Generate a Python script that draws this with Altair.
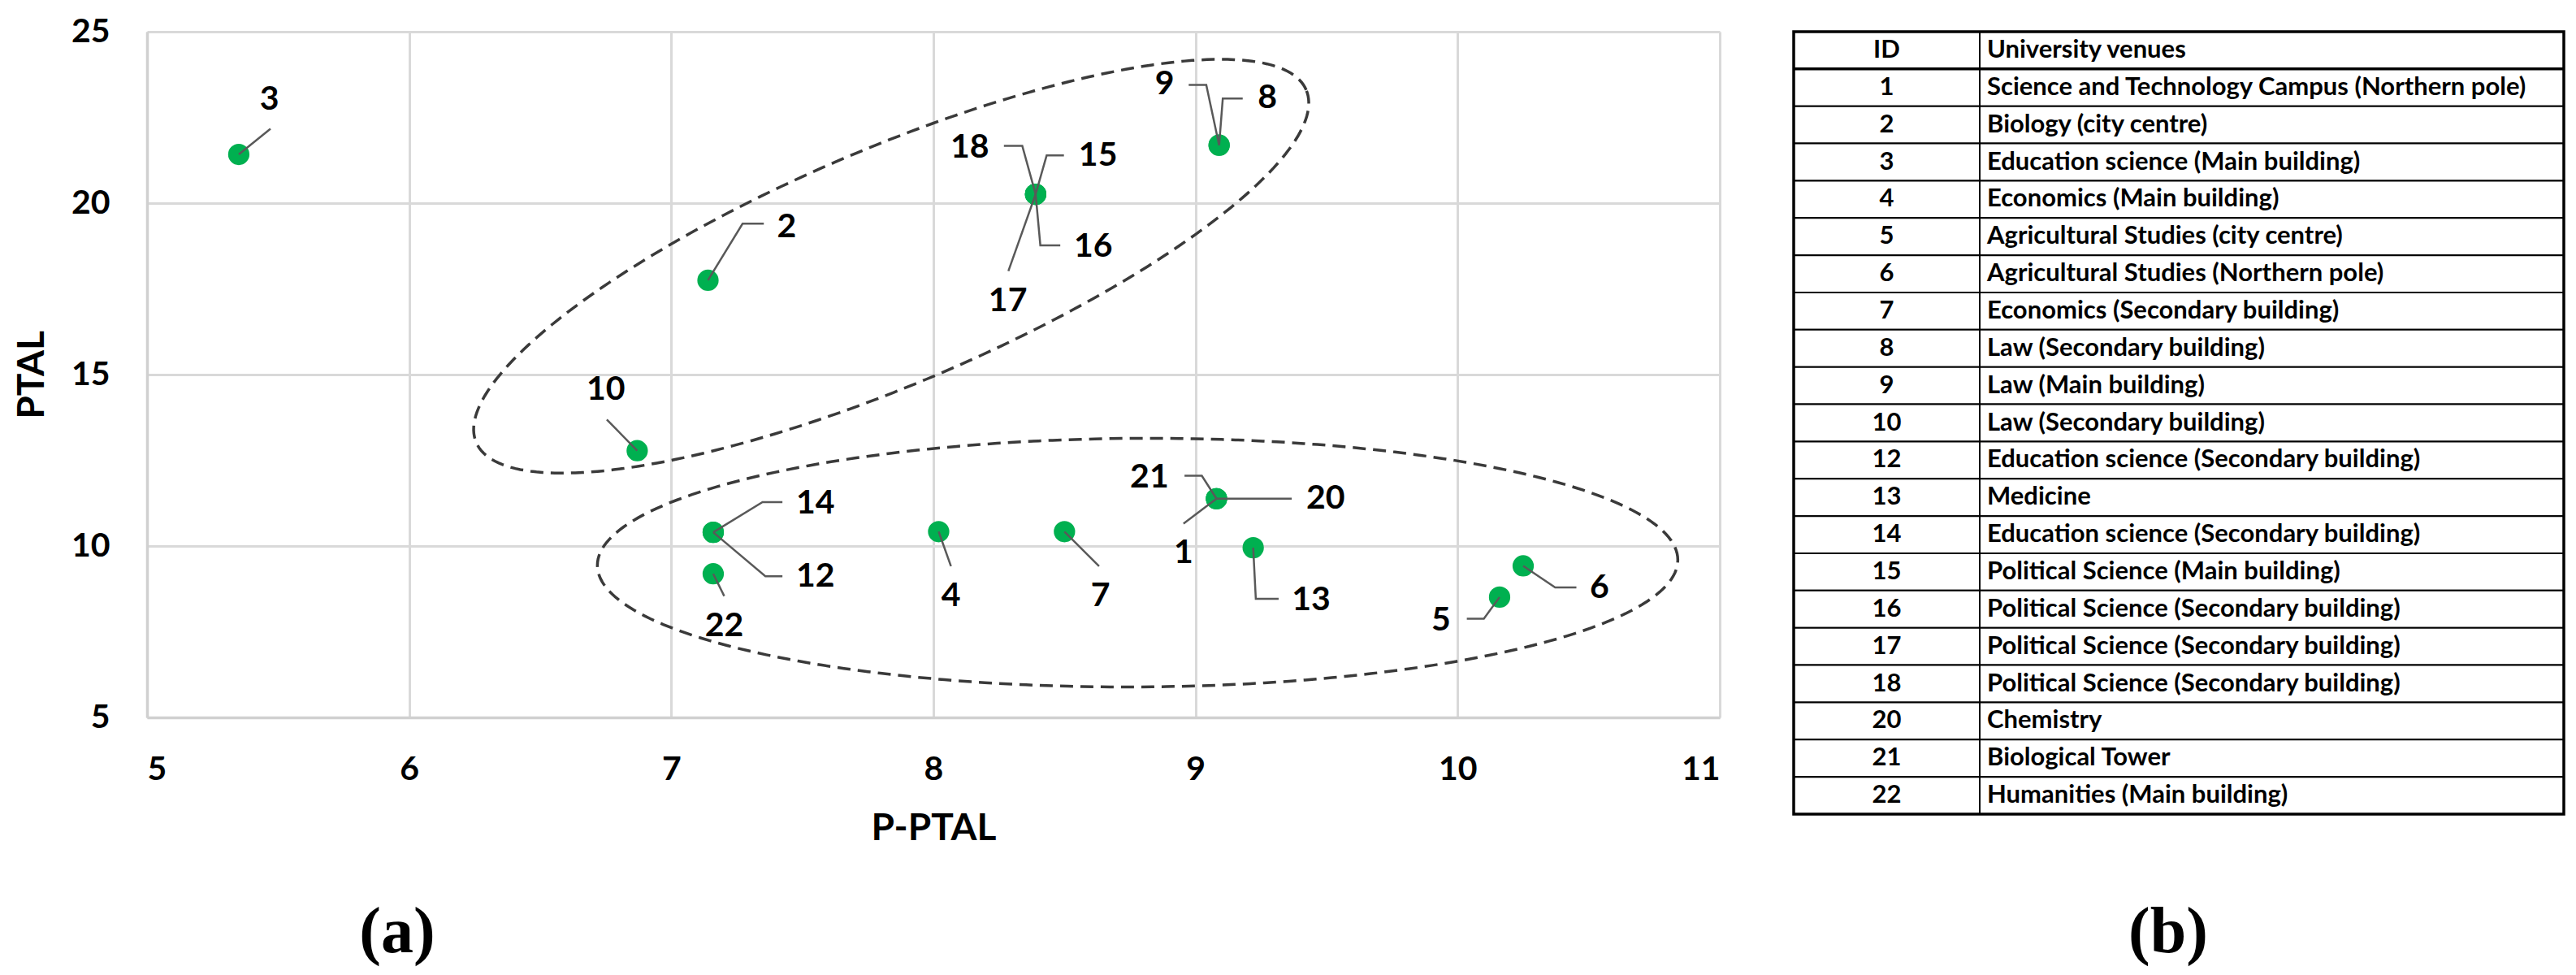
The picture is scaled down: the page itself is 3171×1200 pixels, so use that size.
import math
import altair as alt
import pandas as pd

# ---------------- data ----------------
ids = [1, 2, 3, 4, 5, 6, 7, 8, 9, 10, 12, 13, 14, 15, 16, 17, 18, 20, 21, 22]
venues = [
    "Science and Technology Campus (Northern pole)",
    "Biology (city centre)",
    "Education science (Main building)",
    "Economics (Main building)",
    "Agricultural Studies (city centre)",
    "Agricultural Studies (Northern pole)",
    "Economics (Secondary building)",
    "Law (Secondary building)",
    "Law (Main building)",
    "Law (Secondary building)",
    "Education science (Secondary building)",
    "Medicine",
    "Education science (Secondary building)",
    "Political Science (Main building)",
    "Political Science (Secondary building)",
    "Political Science (Secondary building)",
    "Political Science (Secondary building)",
    "Chemistry",
    "Biological Tower",
    "Humanities (Main building)",
]
p_ptal = [9.08, 7.14, 5.35, 8.02, 10.16, 10.25, 8.50, 9.09, 9.09, 6.87,
          7.16, 9.22, 7.16, 8.39, 8.39, 8.39, 8.39, 9.08, 9.08, 7.16]
ptal = [11.38, 17.75, 21.42, 10.42, 8.51, 9.42, 10.42, 21.69, 21.69, 12.78,
        10.40, 9.95, 10.40, 20.26, 20.26, 20.26, 20.26, 11.38, 11.38, 9.19]

# data-label placement (annotation positions, in axis units)
label_x = [8.954, 7.440, 5.467, 8.067, 9.937, 10.541, 8.637, 9.274, 8.882, 6.750,
           7.550, 9.441, 7.550, 8.628, 8.610, 8.284, 8.139, 9.496, 8.824, 7.202]
label_y = [9.79, 19.30, 23.00, 8.54, 7.83, 8.76, 8.54, 23.05, 23.45, 14.56,
           9.09, 8.42, 11.23, 21.37, 18.73, 17.14, 21.62, 11.37, 11.98, 7.66]
# leader-line elbows (from the point towards the label)
leader_elbows = [
    [(8.954, 10.65)],
    [(7.272, 19.40), (7.353, 19.40)],
    [(5.471, 22.17)],
    [(8.067, 9.41)],
    [(10.100, 7.88), (10.035, 7.88)],
    [(10.372, 8.79), (10.453, 8.79)],
    [(8.632, 9.41)],
    [(9.104, 23.05), (9.180, 23.05)],
    [(9.041, 23.45), (8.974, 23.45)],
    [(6.754, 13.69)],
    [(7.359, 9.12), (7.424, 9.12)],
    [(9.230, 8.46), (9.317, 8.46)],
    [(7.348, 11.28), (7.424, 11.28)],
    [(8.432, 21.39), (8.498, 21.39)],
    [(8.408, 18.77), (8.484, 18.77)],
    [(8.286, 18.02)],
    [(8.339, 21.67), (8.269, 21.67)],
    [(9.367, 11.38)],
    [(9.024, 12.05), (8.958, 12.05)],
    [(7.202, 8.54)],
]

# dashed cluster outlines: centre (axis units), semi-axes (px), rotation (deg)
clusters = [
    {"name": "upper", "cx": 7.839, "cy": 18.16, "a": 555, "b": 145, "angle": 23.0},
    {"name": "lower", "cx": 8.779, "cy": 9.515, "a": 665, "b": 153, "angle": 0.3},
]

x_ticks = [5, 6, 7, 8, 9, 10, 11]
y_ticks = [5, 10, 15, 20, 25]

# ---------------- layout ----------------
W, H = 1936, 844
XD, YD = [5, 11], [5, 25]
sx = W / (XD[1] - XD[0])
sy = H / (YD[1] - YD[0])
FONT = "Lato"
GREEN = "#00B050"

pts = pd.DataFrame({"id": ids, "x": p_ptal, "y": ptal,
                    "lx": label_x, "ly": label_y, "venue": venues})

lead_rows = []
for i, pid in enumerate(ids):
    lead_rows.append({"seg": pid, "o": 0, "x": p_ptal[i], "y": ptal[i]})
    for k, (ex, ey) in enumerate(leader_elbows[i]):
        lead_rows.append({"seg": pid, "o": k + 1, "x": ex, "y": ey})
leaders = pd.DataFrame(lead_rows)

ell_rows = []
N = 240
for c in clusters:
    th = math.radians(c["angle"])
    for k in range(N + 1):
        t = 2 * math.pi * k / N
        dx = c["a"] * math.cos(t) * math.cos(th) - c["b"] * math.sin(t) * math.sin(th)
        dy = c["a"] * math.cos(t) * math.sin(th) + c["b"] * math.sin(t) * math.cos(th)
        ell_rows.append({"cl": c["name"], "o": k,
                         "x": c["cx"] + dx / sx, "y": c["cy"] + dy / sy})
ellipses = pd.DataFrame(ell_rows)

xscale = alt.Scale(domain=XD, nice=False, zero=False)
yscale = alt.Scale(domain=YD, nice=False, zero=False)
xaxis = alt.Axis(values=x_ticks, format="d", grid=True)
yaxis = alt.Axis(values=y_ticks, format="d", grid=True)


def X(field):
    return alt.X(field, type="quantitative", scale=xscale, axis=xaxis, title="P-PTAL")


def Y(field):
    return alt.Y(field, type="quantitative", scale=yscale, axis=yaxis, title="PTAL")


point_layer = alt.Chart(pts).mark_circle(
    size=690, color=GREEN, opacity=1
).encode(x=X("x"), y=Y("y"))

ell_layer = alt.Chart(ellipses).mark_line(
    color="#3a3a3a", strokeWidth=3.5, strokeDash=[16, 9]
).encode(x=X("x"), y=Y("y"), detail="cl:N", order="o:Q")

lead_layer = alt.Chart(leaders).mark_line(
    color="#595959", strokeWidth=2.5
).encode(x=X("x"), y=Y("y"), detail="seg:N", order="o:Q")

label_layer = alt.Chart(pts).mark_text(
    font=FONT, fontSize=41, fontWeight="bold", color="#000000",
    align="center", baseline="middle"
).encode(x=X("lx"), y=Y("ly"), text="id:N")

cap_a = alt.Chart(pd.DataFrame({"t": ["(a)"]})).mark_text(
    font="Liberation Serif", fontSize=80, fontWeight="bold", color="#000000",
    align="center", baseline="middle"
).encode(x=alt.value(308), y=alt.value(1109), text="t:N")

scatter = alt.layer(
    point_layer, ell_layer, lead_layer, label_layer, cap_a
).properties(width=W, height=H)

# ---------------- table ----------------
TW, TH = 948, 963
C1 = 229
row_keys = [f"r{i:02d}" for i in range(len(ids) + 1)]
tbl = pd.DataFrame({
    "row": row_keys,
    "idtxt": ["ID"] + [str(i) for i in ids],
    "name": ["University venues"] + venues,
})
ysc = alt.Scale(domain=row_keys, paddingInner=0, paddingOuter=0)

cells1 = alt.Chart(tbl).mark_rect(fill="white", stroke="#000000", strokeWidth=2).encode(
    y=alt.Y("row:N", scale=ysc, axis=None), x=alt.value(0), x2=alt.value(C1))
cells2 = alt.Chart(tbl).mark_rect(fill="white", stroke="#000000", strokeWidth=2).encode(
    y=alt.Y("row:N", scale=ysc, axis=None), x=alt.value(C1), x2=alt.value(TW))
head_line = alt.Chart(tbl.iloc[:1]).mark_rule(color="#000000", strokeWidth=3.5).encode(
    y=alt.Y("row:N", scale=ysc, axis=None, bandPosition=1), x=alt.value(0), x2=alt.value(TW))
border = alt.Chart(tbl.iloc[:1]).mark_rect(fill=None, stroke="#000000", strokeWidth=3.5).encode(
    x=alt.value(0), x2=alt.value(TW), y=alt.value(0), y2=alt.value(TH))
id_text = alt.Chart(tbl).mark_text(
    font=FONT, fontSize=31, fontWeight="bold", align="center", baseline="middle", color="#000000"
).encode(y=alt.Y("row:N", scale=ysc, axis=None, bandPosition=0.5),
         x=alt.value(C1 / 2), text="idtxt:N")
name_text = alt.Chart(tbl).mark_text(
    font=FONT, fontSize=31, fontWeight="bold", align="left", baseline="middle", color="#000000"
).encode(y=alt.Y("row:N", scale=ysc, axis=None, bandPosition=0.5),
         x=alt.value(C1 + 9), text="name:N")
cap_b = alt.Chart(pd.DataFrame({"t": ["(b)"]})).mark_text(
    font="Liberation Serif", fontSize=80, fontWeight="bold", color="#000000",
    align="center", baseline="middle"
).encode(x=alt.value(461), y=alt.value(1109), text="t:N")

table = alt.layer(cells1, cells2, head_line, border, id_text, name_text, cap_b).properties(
    width=TW, height=TH)

chart = alt.hconcat(scatter, table, spacing=89).properties(
    padding={"left": 8, "top": 10, "right": 5, "bottom": 5}
).configure_view(stroke=None).configure_axis(
    labelFont=FONT, labelFontSize=41, labelFontWeight="bold", labelColor="#000000",
    titleFont=FONT, titleFontSize=46, titleFontWeight="bold", titleColor="#000000",
    gridColor="#d9d9d9", gridWidth=3, domainColor="#d0d0d0", domainWidth=3.5,
    ticks=False, tickSize=0,
).configure_axisX(labelPadding=44, titlePadding=30).configure_axisY(
    labelPadding=46, titlePadding=24
)

chart.save("out.html", embed_options={"renderer": "svg", "actions": False})
